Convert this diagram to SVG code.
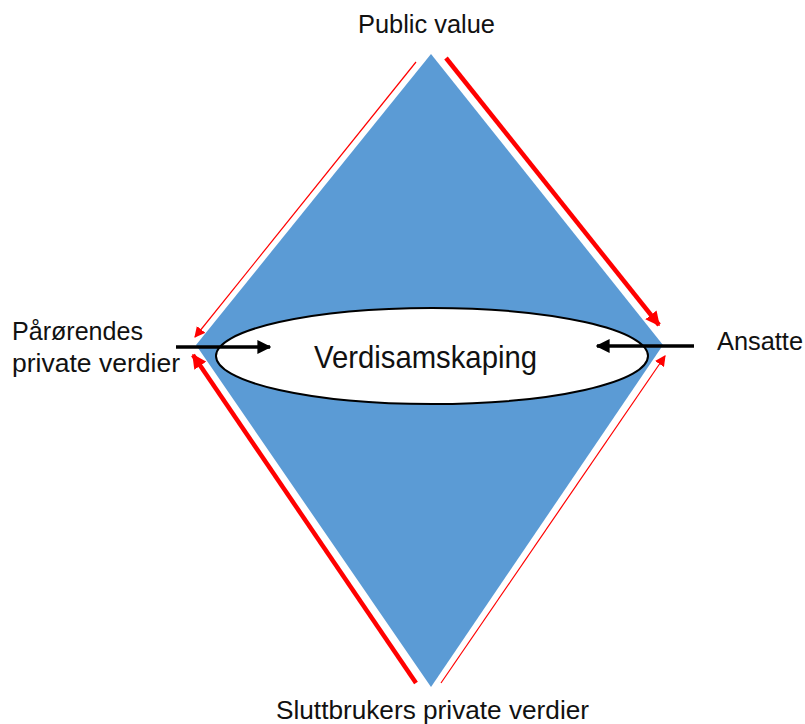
<svg xmlns="http://www.w3.org/2000/svg" width="805" height="724" viewBox="0 0 805 724">
<style>
.lbl{font-family:"Liberation Sans",Arial,sans-serif;font-size:25px;fill:#111}
.red{stroke:#ff0000;fill:none}
.blk{stroke:#000;stroke-width:3.5;fill:none}
</style>
<defs>
<marker id="rh" viewBox="0 0 10 10" refX="9" refY="5" markerWidth="3.2" markerHeight="3.2" orient="auto" markerUnits="strokeWidth"><path d="M0,0 L10,5 L0,10 z" fill="#ff0000"/></marker>
<marker id="rt" viewBox="0 0 10 10" refX="9" refY="5" markerWidth="9" markerHeight="9" orient="auto" markerUnits="strokeWidth"><path d="M0,0 L10,5 L0,10 z" fill="#ff0000"/></marker>
<marker id="bh" viewBox="0 0 10 10" refX="9" refY="5" markerWidth="4" markerHeight="4" orient="auto" markerUnits="strokeWidth"><path d="M0,0 L10,5 L0,10 z" fill="#000"/></marker>
</defs>
<g id="diamond"><polygon points="431,54 663,345 431,687 196,345" fill="#5b9bd5"/></g>
<g id="ellipse"><ellipse cx="432" cy="356" rx="216" ry="48" fill="#fff" stroke="#000" stroke-width="2"/>
<text x="314" y="368" textLength="223" lengthAdjust="spacingAndGlyphs" style="font-family:'Liberation Sans',Arial,sans-serif;font-size:32px;fill:#111">Verdisamskaping</text></g>
<g id="labels">
<text class="lbl" x="358" y="33" textLength="137" lengthAdjust="spacingAndGlyphs">Public value</text>
<text class="lbl" x="12" y="340" textLength="131" lengthAdjust="spacingAndGlyphs">Pårørendes</text>
<text class="lbl" x="12" y="372" textLength="168" lengthAdjust="spacingAndGlyphs">private verdier</text>
<text class="lbl" x="717" y="350" textLength="86" lengthAdjust="spacingAndGlyphs">Ansatte</text>
<text class="lbl" x="276" y="719" textLength="313" lengthAdjust="spacingAndGlyphs">Sluttbrukers private verdier</text>
</g>
<g id="connectors">
<line class="red" x1="446" y1="58" x2="659" y2="325" stroke-width="4.5" marker-end="url(#rh)"/>
<line class="red" x1="416" y1="62" x2="195" y2="337" stroke-width="1.2" marker-end="url(#rt)"/>
<line class="red" x1="416" y1="683" x2="193" y2="355" stroke-width="4.5" marker-end="url(#rh)"/>
<line class="red" x1="441" y1="683" x2="665" y2="356" stroke-width="1.2" marker-end="url(#rt)"/>
<line class="blk" x1="176" y1="347" x2="270" y2="347" marker-end="url(#bh)"/>
<line class="blk" x1="694" y1="346" x2="597" y2="346" marker-end="url(#bh)"/>
</g>
</svg>
